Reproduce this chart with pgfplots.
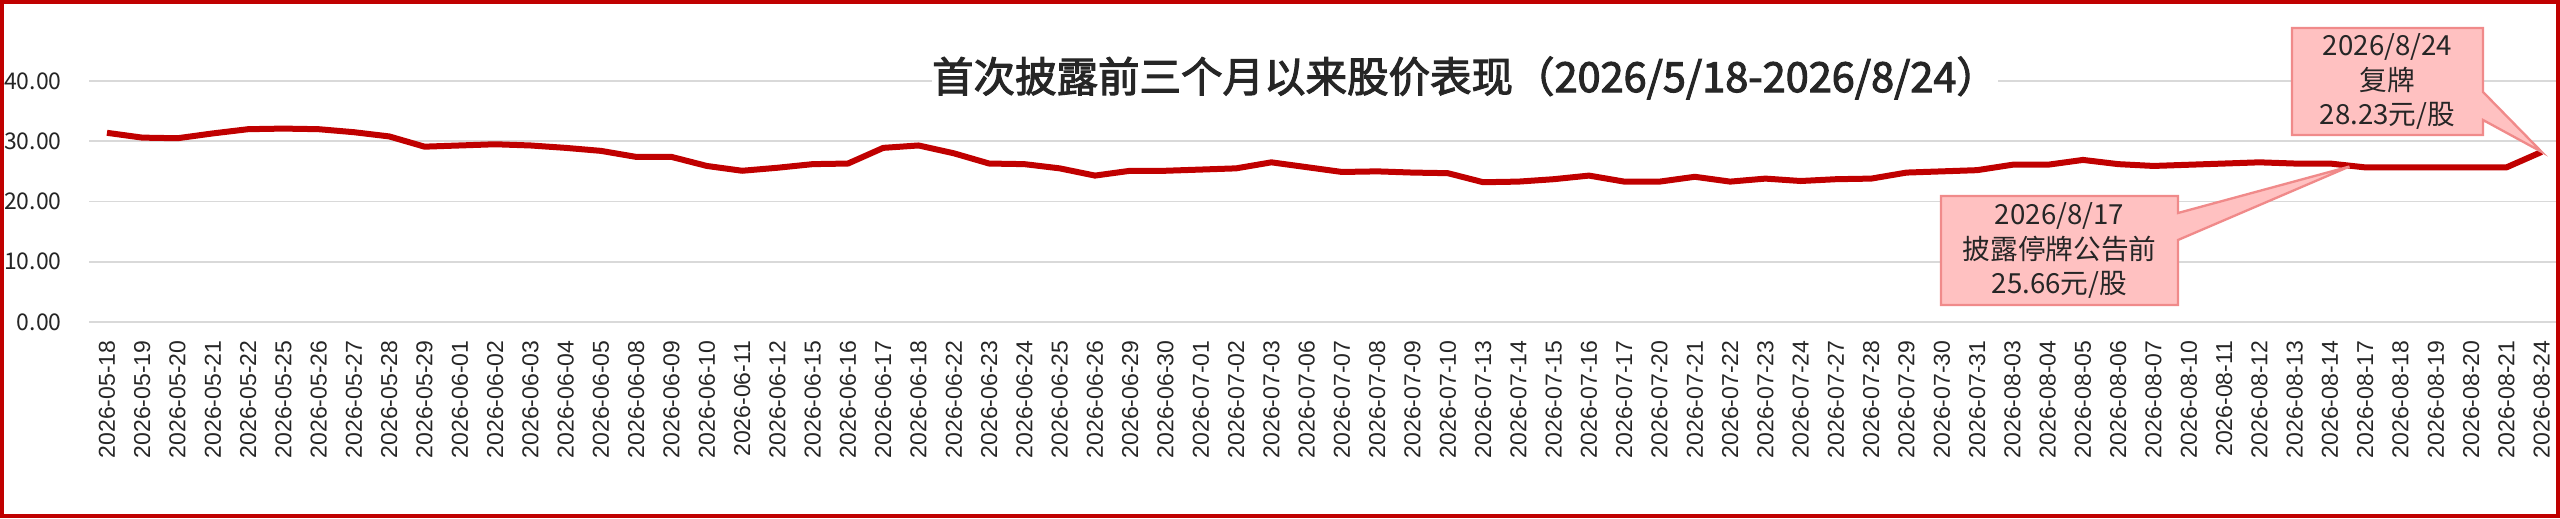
\documentclass[border=0pt]{standalone}
\usepackage{fontspec}
\setmainfont{Noto Sans CJK SC}
\newfontfamily\xfont{Liberation Sans}
\newfontfamily\titlefont[FakeBold=2.5]{Noto Sans CJK SC}
\usepackage{pgfplots}
\pgfplotsset{compat=1.18}
\definecolor{linered}{HTML}{C00000}
\definecolor{framered}{HTML}{C00000}
\definecolor{gridgray}{HTML}{D9D9D9}
\definecolor{txt}{HTML}{262626}
\definecolor{callfill}{HTML}{FFC1C1}
\definecolor{calldraw}{HTML}{F08A8A}
\begin{document}
\begin{tikzpicture}
\path[use as bounding box] (0,0) rectangle (768pt,155.4pt);
\begin{axis}[
  at={(26.8pt,58.8pt)}, anchor=south west,
  scale only axis, width=741pt, height=72.3pt,
  xmin=-0.5, xmax=69.5, ymin=0, ymax=40,
  clip=false,
  axis line style={draw=none},
  tick style={draw=none},
  major tick length=0pt,
  ymajorgrids, grid style={gridgray, line width=0.5pt},
  ytick={0,10,20,30,40},
  yticklabels={0.00,10.00,20.00,30.00,40.00},
  yticklabel style={font=\fontsize{6.9}{8}\selectfont, text=txt, inner sep=0pt, anchor=east},
  yticklabel shift=8.1pt,
  xtick={0,...,69},
  xticklabels={2026-05-18,2026-05-19,2026-05-20,2026-05-21,2026-05-22,2026-05-25,2026-05-26,2026-05-27,2026-05-28,2026-05-29,
  2026-06-01,2026-06-02,2026-06-03,2026-06-04,2026-06-05,2026-06-08,2026-06-09,2026-06-10,2026-06-11,2026-06-12,
  2026-06-15,2026-06-16,2026-06-17,2026-06-18,2026-06-22,2026-06-23,2026-06-24,2026-06-25,2026-06-26,2026-06-29,
  2026-06-30,2026-07-01,2026-07-02,2026-07-03,2026-07-06,2026-07-07,2026-07-08,2026-07-09,2026-07-10,2026-07-13,
  2026-07-14,2026-07-15,2026-07-16,2026-07-17,2026-07-20,2026-07-21,2026-07-22,2026-07-23,2026-07-24,2026-07-27,
  2026-07-28,2026-07-29,2026-07-30,2026-07-31,2026-08-03,2026-08-04,2026-08-05,2026-08-06,2026-08-07,2026-08-10,
  2026-08-11,2026-08-12,2026-08-13,2026-08-14,2026-08-17,2026-08-18,2026-08-19,2026-08-20,2026-08-21,2026-08-24},
  xticklabel style={rotate=90, anchor=east, font=\xfont\fontsize{6.9}{8}\selectfont, text=txt, inner sep=0pt},
  xticklabel shift=5.4pt,
]
\addplot[linered, line width=1.8pt, line join=round, mark=none] coordinates {
(0,31.4)(1,30.6)(2,30.5)(3,31.3)(4,32.0)(5,32.1)(6,32.0)(7,31.5)(8,30.8)(9,29.1)
(10,29.3)(11,29.5)(12,29.3)(13,28.9)(14,28.4)(15,27.4)(16,27.4)(17,25.9)(18,25.1)(19,25.6)
(20,26.2)(21,26.3)(22,28.9)(23,29.3)(24,28.0)(25,26.3)(26,26.2)(27,25.5)(28,24.3)(29,25.1)
(30,25.1)(31,25.3)(32,25.5)(33,26.5)(34,25.7)(35,24.9)(36,25.0)(37,24.8)(38,24.7)(39,23.2)
(40,23.3)(41,23.7)(42,24.3)(43,23.3)(44,23.3)(45,24.1)(46,23.3)(47,23.8)(48,23.4)(49,23.7)
(50,23.8)(51,24.8)(52,25.0)(53,25.2)(54,26.1)(55,26.1)(56,26.9)(57,26.2)(58,25.9)(59,26.1)
(60,26.3)(61,26.5)(62,26.3)(63,26.3)(64,25.66)(65,25.66)(66,25.66)(67,25.66)(68,25.66)(69,28.23)
};
\coordinate (tipA) at (axis cs:69,28.23);
\coordinate (tipB) at (axis cs:63.55,25.8);
\end{axis}
\node[fill=white, inner xsep=0pt, inner ysep=2pt, text=txt, font=\titlefont\fontsize{12.45}{14}\selectfont] at (439.5pt,132pt) {首次披露前三个月以来股价表现（2026/5/18-2026/8/24）};
\filldraw[fill=callfill, draw=calldraw, line width=0.7pt, line join=miter]
  (687.6pt,147pt) -- (744.9pt,147pt) -- (744.9pt,127.8pt) -- (tipA) -- (744.9pt,119.4pt) -- (744.9pt,114.9pt) -- (687.6pt,114.9pt) -- cycle;
\node[align=center, text=txt, font=\fontsize{8.3}{10.3}\selectfont] at (716.25pt,130.95pt) {2026/8/24\\复牌\\28.23元/股};
\filldraw[fill=callfill, draw=calldraw, line width=0.7pt, line join=miter]
  (582.3pt,96.6pt) -- (653.4pt,96.6pt) -- (653.4pt,91.5pt) -- (tipB) -- (653.4pt,83.4pt) -- (653.4pt,63.9pt) -- (582.3pt,63.9pt) -- cycle;
\node[align=center, text=txt, font=\fontsize{8.3}{10.3}\selectfont] at (617.85pt,80.25pt) {2026/8/17\\披露停牌公告前\\25.66元/股};
\draw[framered, line width=1.1pt] (0.55pt,0.55pt) rectangle (767.45pt,154.85pt);
\end{tikzpicture}
\end{document}
